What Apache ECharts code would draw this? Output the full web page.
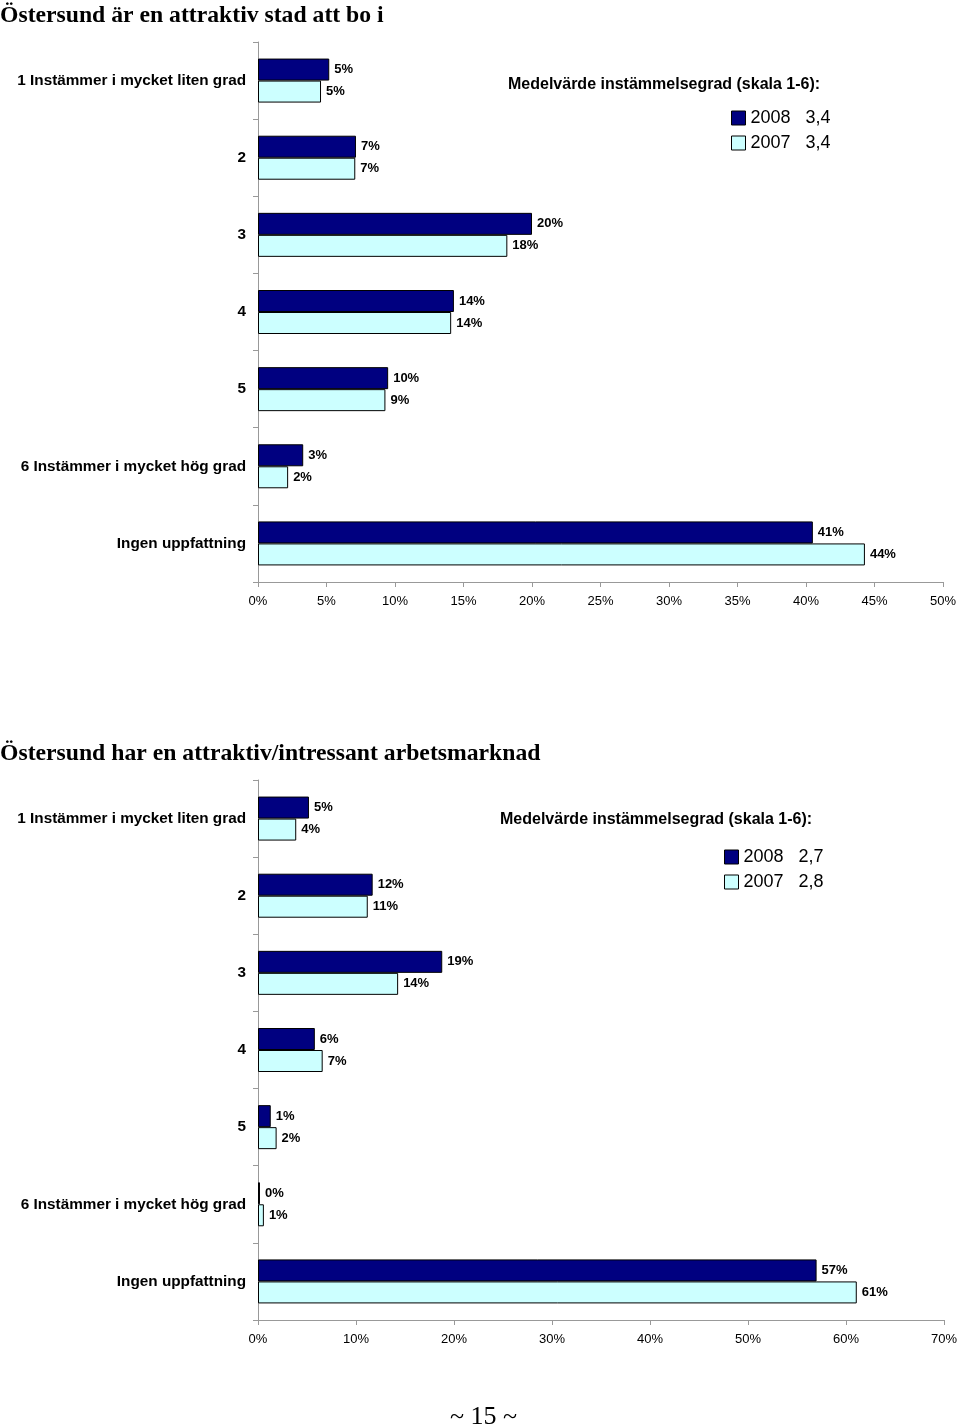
<!DOCTYPE html>
<html>
<head>
<meta charset="utf-8">
<style>
  html, body { margin: 0; padding: 0; background: #fff; }
  #chart { width: 960px; height: 1427px; }
</style>
<script src="https://cdn.jsdelivr.net/npm/echarts@6/dist/echarts.min.js"></script>
</head>
<body>
<div id="chart"></div>
<script>
// ---- Data ----
const categories = [
  '1 Instämmer i mycket liten grad', '2', '3', '4', '5',
  '6 Instämmer i mycket hög grad', 'Ingen uppfattning'
];
const seriesNames = ['2008', '2007'];

const title1 = 'Östersund är en attraktiv stad att bo i';
const chart1_2008 = [5.2, 7.15, 20.0, 14.3, 9.5, 3.3, 40.5];
const chart1_2007 = [4.6, 7.1, 18.2, 14.1, 9.3, 2.2, 44.3];
const chart1_means = { '2008': '3,4', '2007': '3,4' };
const chart1_ticks = { min: 0, max: 50, interval: 5 };

const title2 = 'Östersund har en attraktiv/intressant arbetsmarknad';
const chart2_2008 = [5.2, 11.7, 18.8, 5.8, 1.3, 0.2, 57.0];
const chart2_2007 = [3.9, 11.2, 14.3, 6.6, 1.9, 0.6, 61.1];
const chart2_means = { '2008': '2,7', '2007': '2,8' };
const chart2_ticks = { min: 0, max: 70, interval: 10 };

const meanHeading = 'Medelvärde instämmelsegrad (skala 1-6):';
const footer = '~ 15 ~';

// ---- Styles ----
const colors = { '2008': '#000080', '2007': '#CCFFFF' };
const sans = 'Liberation Sans, Arial, sans-serif';
const serif = 'Liberation Serif, Times New Roman, serif';
const axisGray = '#999999';

function xAxisFor(gridIndex, t) {
  return {
    type: 'value', gridIndex: gridIndex,
    min: t.min, max: t.max, interval: t.interval,
    axisLine: { show: true, lineStyle: { color: axisGray, width: 1 } },
    axisTick: { show: true, length: 5, lineStyle: { color: axisGray } },
    splitLine: { show: false },
    axisLabel: { formatter: '{value}%', color: '#000', fontSize: 13, fontFamily: sans, margin: 13 }
  };
}
function yAxisFor(gridIndex) {
  return {
    type: 'category', gridIndex: gridIndex, data: categories, inverse: true,
    axisLine: { show: true, lineStyle: { color: axisGray, width: 1 } },
    axisTick: { show: true, length: 5, lineStyle: { color: axisGray } },
    axisLabel: { color: '#000', fontSize: 15.3, fontWeight: 'bold', fontFamily: sans, margin: 12 }
  };
}
function barSeries(name, data, idx) {
  return {
    type: 'bar', name: name, data: data,
    xAxisIndex: idx, yAxisIndex: idx,
    barWidth: 22, barGap: '0%',
    itemStyle: { color: colors[name], borderColor: '#000', borderWidth: 1 },
    label: {
      show: true, position: 'right', distance: 5,
      formatter: p => Math.round(p.value) + '%',
      color: '#000', fontSize: 13, fontWeight: 'bold', fontFamily: sans
    },
    emphasis: { disabled: true }
  };
}
function legendFor(means, left, top) {
  return {
    data: seriesNames, orient: 'vertical', left: left, top: top, padding: 0,
    itemWidth: 14, itemHeight: 14, itemGap: 7, icon: 'rect',
    selectedMode: false,
    itemStyle: { borderColor: '#000', borderWidth: 1 },
    formatter: name => '{a|' + name + '}{b|' + means[name] + '}',
    textStyle: {
      color: '#000', fontFamily: sans, fontSize: 18,
      rich: {
        a: { fontSize: 18, fontFamily: sans, color: '#000', width: 55 },
        b: { fontSize: 18, fontFamily: sans, color: '#000' }
      }
    }
  };
}

const chart = echarts.init(document.getElementById('chart'), null, { renderer: 'canvas' });
chart.setOption({
  animation: false,
  backgroundColor: '#fff',
  title: [
    { text: title1, left: 0, top: 4, padding: 0, textStyle: { fontFamily: serif, fontSize: 23.7, fontWeight: 'bold', color: '#000' } },
    { text: meanHeading, left: 508, top: 77, padding: 0, textStyle: { fontFamily: sans, fontSize: 16, fontWeight: 'bold', color: '#000' } },
    { text: title2, left: 0, top: 742, padding: 0, textStyle: { fontFamily: serif, fontSize: 23.7, fontWeight: 'bold', color: '#000' } },
    { text: meanHeading, left: 500, top: 812, padding: 0, textStyle: { fontFamily: sans, fontSize: 16, fontWeight: 'bold', color: '#000' } },
    { text: footer, left: 450, top: 1404, padding: 0, textStyle: { fontFamily: serif, fontSize: 26, fontWeight: 'normal', color: '#000' } }
  ],
  legend: [
    legendFor(chart1_means, 731, 109),
    legendFor(chart2_means, 724, 848)
  ],
  grid: [
    { left: 258, top: 42, width: 685, height: 540, containLabel: false },
    { left: 258, top: 780, width: 687, height: 540, containLabel: false }
  ],
  xAxis: [xAxisFor(0, chart1_ticks), xAxisFor(1, chart2_ticks)],
  yAxis: [yAxisFor(0), yAxisFor(1)],
  series: [
    barSeries('2008', chart1_2008, 0),
    barSeries('2007', chart1_2007, 0),
    barSeries('2008', chart2_2008, 1),
    barSeries('2007', chart2_2007, 1)
  ]
});
</script>
</body>
</html>
